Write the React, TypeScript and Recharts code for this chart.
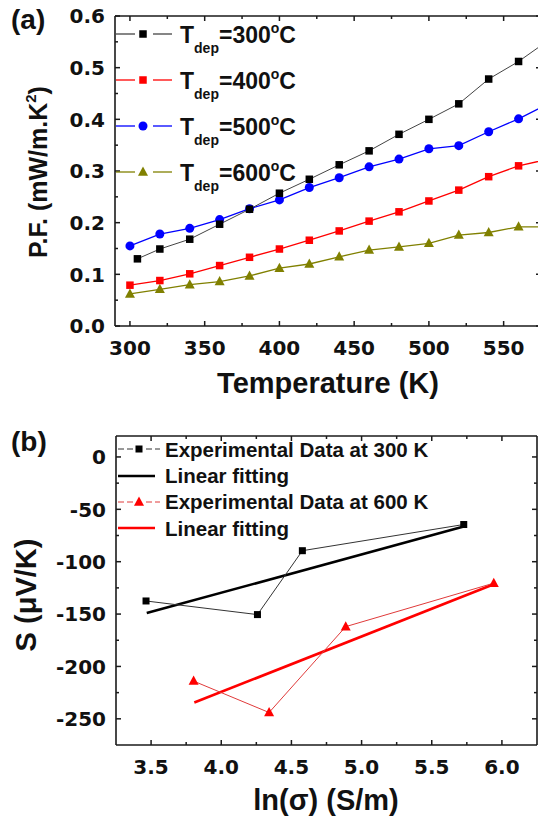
import React from 'react';
import { LineChart, Line, XAxis, YAxis } from 'recharts';

// (a) power factor vs temperature
const TEMPS = [300, 320, 340, 360, 380, 400, 420, 440, 460, 480, 500, 520, 540, 560, 580];
const TEMPS_300 = [305, 320, 340, 360, 380, 400, 420, 440, 460, 480, 500, 520, 540, 560, 580];
const PF_300 = [0.130, 0.149, 0.168, 0.197, 0.226, 0.257, 0.284, 0.312, 0.339, 0.371, 0.400, 0.430, 0.478, 0.512, 0.553];
const PF_400 = [0.079, 0.088, 0.101, 0.117, 0.133, 0.149, 0.166, 0.184, 0.203, 0.221, 0.242, 0.263, 0.289, 0.310, 0.323];
const PF_500 = [0.155, 0.178, 0.189, 0.206, 0.227, 0.244, 0.268, 0.287, 0.308, 0.323, 0.343, 0.349, 0.376, 0.401, 0.430];
const PF_600 = [0.062, 0.071, 0.080, 0.086, 0.097, 0.112, 0.120, 0.134, 0.147, 0.153, 0.160, 0.176, 0.181, 0.192, 0.192];

// (b) Seebeck vs ln(conductivity)
const LN_300 = [3.464, 4.258, 4.578, 5.728];
const S_300 = [-137.5, -150.5, -89.5, -64.5];
const FIT_LN_300 = [3.469, 5.728];
const FIT_S_300 = [-149, -66.5];
const LN_600 = [3.803, 4.341, 4.887, 5.942];
const S_600 = [-214, -244, -162, -120.5];
const FIT_LN_600 = [3.808, 5.942];
const FIT_S_600 = [-234.5, -121.5];

// ticks
const A_X_MAJOR = [300, 350, 400, 450, 500, 550];
const A_X_MINOR = [325, 375, 425, 475, 525];
const A_Y_MAJOR = [0, 0.1, 0.2, 0.3, 0.4, 0.5, 0.6];
const A_Y_MINOR = [0.05, 0.15, 0.25, 0.35, 0.45, 0.55];
const B_X_MAJOR = [3.5, 4.0, 4.5, 5.0, 5.5, 6.0];
const B_X_MINOR = [3.75, 4.25, 4.75, 5.25, 5.75];
const B_Y_MAJOR = [0, -50, -100, -150, -200, -250];
const B_Y_MINOR = [-25, -75, -125, -175, -225];

const FRAME = '#1a1a1a';
const TICK_FONT = { fontFamily: 'DejaVu Sans', fontWeight: 700, fontSize: 20, fill: '#111' };
const LABEL_FONT = 'Liberation Sans, Arial, sans-serif';

const pts = (xs: number[], ys: number[]) => xs.map((x, i) => ({ x, y: ys[i] }));

type Shape = 'square' | 'circle' | 'triangle';

const drawMarker = (shape: Shape, color: string, size: number, cx: number, cy: number, key?: any) => {
  const h = size / 2;
  if (shape === 'square') return <rect key={key} x={cx - h} y={cy - h} width={size} height={size} fill={color} />;
  if (shape === 'circle') return <circle key={key} cx={cx} cy={cy} r={h} fill={color} />;
  return (
    <polygon
      key={key}
      points={`${cx},${cy - h * 1.1} ${cx + h},${cy + h * 0.75} ${cx - h},${cy + h * 0.75}`}
      fill={color}
    />
  );
};

const dotOf = (shape: Shape, color: string, size: number) => (props: any) => {
  const { cx, cy, index } = props;
  if (cx == null || cy == null) return <g key={index} />;
  return drawMarker(shape, color, size, cx, cy, index);
};

type Side = 'bottom' | 'top' | 'left' | 'right';

// inward ticks (major with label, minor without), drawn from the axis line
const axisTick = (side: Side, majors: number[], fmt?: (v: number) => string) => (props: any) => {
  const { x, y, payload } = props;
  const v = payload.value;
  const major = majors.some((m) => Math.abs(m - v) < 1e-6);
  const len = major ? 5 : 3;
  let x2 = x;
  let y2 = y;
  if (side === 'bottom') y2 = y - len;
  if (side === 'top') y2 = y + len;
  if (side === 'left') x2 = x + len;
  if (side === 'right') x2 = x - len;
  return (
    <g>
      <line x1={x} y1={y} x2={x2} y2={y2} stroke={FRAME} strokeWidth={1.5} />
      {major && fmt && side === 'bottom' && (
        <text x={x} y={y + 29} textAnchor="middle" {...TICK_FONT}>{fmt(v)}</text>
      )}
      {major && fmt && side === 'left' && (
        <text x={x - 10} y={y} dy="0.36em" textAnchor="end" {...TICK_FONT}>{fmt(v)}</text>
      )}
    </g>
  );
};

const axisLine = { stroke: FRAME, strokeWidth: 1.6 };

export default function App() {
  const aX = [...A_X_MAJOR, ...A_X_MINOR];
  const aY = [...A_Y_MAJOR, ...A_Y_MINOR];
  const bX = [...B_X_MAJOR, ...B_X_MINOR];
  const bY = [...B_Y_MAJOR, ...B_Y_MINOR];
  const fmtA_X = (v: number) => String(v);
  const fmtA_Y = (v: number) => v.toFixed(1);
  const fmtB_X = (v: number) => v.toFixed(1);
  const fmtB_Y = (v: number) => String(v);

  const topLegend = [
    { label: '300', shape: 'square' as Shape, color: '#000000', line: '#444444', y: 34 },
    { label: '400', shape: 'square' as Shape, color: '#ff0000', line: '#ff0000', y: 80 },
    { label: '500', shape: 'circle' as Shape, color: '#0000ff', line: '#0000ff', y: 126 },
    { label: '600', shape: 'triangle' as Shape, color: '#808000', line: '#808000', y: 172 },
  ];

  return (
    <div style={{ position: 'fixed', left: 0, top: 0, width: 538, height: 822, overflow: 'hidden', background: '#fff' }}>
      <div style={{ position: 'absolute', left: 0, top: 0 }}>
        <LineChart width={560} height={410} margin={{ top: 15, right: 18, bottom: 83, left: 114 }}>
          <XAxis xAxisId="b" type="number" dataKey="x" domain={[290, 575]} allowDataOverflow ticks={aX} interval={0}
            height={1} tickSize={0} tickMargin={0} tickLine={false} axisLine={axisLine} tick={axisTick('bottom', A_X_MAJOR, fmtA_X)} />
          <XAxis xAxisId="t" orientation="top" type="number" dataKey="x" domain={[290, 575]} allowDataOverflow ticks={aX} interval={0}
            height={1} tickSize={0} tickMargin={0} tickLine={false} axisLine={axisLine} tick={axisTick('top', A_X_MAJOR)} />
          <YAxis yAxisId="l" type="number" domain={[0, 0.6]} allowDataOverflow ticks={aY} interval={0}
            width={1} tickSize={0} tickMargin={0} tickLine={false} axisLine={axisLine} tick={axisTick('left', A_Y_MAJOR, fmtA_Y)} />
          <YAxis yAxisId="r" orientation="right" type="number" domain={[0, 0.6]} allowDataOverflow ticks={aY} interval={0}
            width={1} tickSize={0} tickMargin={0} tickLine={false} axisLine={axisLine} tick={axisTick('right', A_Y_MAJOR)} />
          <Line xAxisId="b" yAxisId="l" data={pts(TEMPS, PF_600)} dataKey="y" stroke="#808000" strokeWidth={1.3}
            dot={dotOf('triangle', '#808000', 10)} isAnimationActive={false} />
          <Line xAxisId="b" yAxisId="l" data={pts(TEMPS, PF_400)} dataKey="y" stroke="#ff0000" strokeWidth={1.3}
            dot={dotOf('square', '#ff0000', 7.5)} isAnimationActive={false} />
          <Line xAxisId="b" yAxisId="l" data={pts(TEMPS, PF_500)} dataKey="y" stroke="#0000ff" strokeWidth={1.3}
            dot={dotOf('circle', '#0000ff', 9)} isAnimationActive={false} />
          <Line xAxisId="b" yAxisId="l" data={pts(TEMPS_300, PF_300)} dataKey="y" stroke="#444444" strokeWidth={1}
            dot={dotOf('square', '#000000', 7.5)} isAnimationActive={false} />
        </LineChart>
      </div>

      <div style={{ position: 'absolute', left: 0, top: 400 }}>
        <LineChart width={540} height={422} margin={{ top: 35, right: 2, bottom: 76, left: 115 }}>
          <XAxis xAxisId="b" type="number" dataKey="x" domain={[3.25, 6.25]} allowDataOverflow ticks={bX} interval={0}
            height={1} tickSize={0} tickMargin={0} tickLine={false} axisLine={axisLine} tick={axisTick('bottom', B_X_MAJOR, fmtB_X)} />
          <XAxis xAxisId="t" orientation="top" type="number" dataKey="x" domain={[3.25, 6.25]} allowDataOverflow ticks={bX} interval={0}
            height={1} tickSize={0} tickMargin={0} tickLine={false} axisLine={axisLine} tick={axisTick('top', B_X_MAJOR)} />
          <YAxis yAxisId="l" type="number" domain={[-275, 20]} allowDataOverflow ticks={bY} interval={0}
            width={1} tickSize={0} tickMargin={0} tickLine={false} axisLine={axisLine} tick={axisTick('left', B_Y_MAJOR, fmtB_Y)} />
          <YAxis yAxisId="r" orientation="right" type="number" domain={[-275, 20]} allowDataOverflow ticks={bY} interval={0}
            width={1} tickSize={0} tickMargin={0} tickLine={false} axisLine={axisLine} tick={axisTick('right', B_Y_MAJOR)} />
          <Line xAxisId="b" yAxisId="l" data={pts(FIT_LN_300, FIT_S_300)} dataKey="y" stroke="#000000" strokeWidth={2.6}
            dot={false} isAnimationActive={false} />
          <Line xAxisId="b" yAxisId="l" data={pts(LN_300, S_300)} dataKey="y" stroke="#333333" strokeWidth={1}
            dot={dotOf('square', '#000000', 7)} isAnimationActive={false} />
          <Line xAxisId="b" yAxisId="l" data={pts(FIT_LN_600, FIT_S_600)} dataKey="y" stroke="#ff0000" strokeWidth={2.6}
            dot={false} isAnimationActive={false} />
          <Line xAxisId="b" yAxisId="l" data={pts(LN_600, S_600)} dataKey="y" stroke="#e03a3a" strokeWidth={1}
            dot={dotOf('triangle', '#ff0000', 10)} isAnimationActive={false} />
        </LineChart>
      </div>

      <svg width={538} height={822} style={{ position: 'absolute', left: 0, top: 0, pointerEvents: 'none' }}
        fontFamily={LABEL_FONT} fontWeight={700} fill="#111">
        <text x={11} y={29} fontSize={28}>(a)</text>
        <text x={11} y={451} fontSize={28}>(b)</text>

        <text x={328} y={393} fontSize={29} textAnchor="middle">Temperature (K)</text>
        <text transform="translate(47,172) rotate(-90)" fontSize={25} textAnchor="middle">
          P.F. (mW/m.K<tspan fontSize={15} dy={-11}>2</tspan><tspan dy={11}>)</tspan>
        </text>

        <text x={326} y={810} fontSize={29} textAnchor="middle">ln(σ) (S/m)</text>
        <text transform="translate(36,595) rotate(-90)" fontSize={29} textAnchor="middle">S (μV/K)</text>

        {topLegend.map((r) => (
          <g key={r.label}>
            <line x1={116} x2={135} y1={r.y} y2={r.y} stroke={r.line} strokeWidth={1.3} />
            <line x1={153} x2={172} y1={r.y} y2={r.y} stroke={r.line} strokeWidth={1.3} />
            {drawMarker(r.shape, r.color, r.shape === 'triangle' ? 10 : r.shape === 'circle' ? 9 : 7.5, 143, r.y)}
            <text x={180} y={r.y + 8.5} fontSize={23}>
              T<tspan fontSize={14} dy={10}>dep</tspan>
              <tspan fontSize={23} dy={-10}>={r.label}</tspan>
              <tspan fontSize={14} dy={-10}>o</tspan>
              <tspan fontSize={23} dy={10}>C</tspan>
            </text>
          </g>
        ))}

        <line x1={118} x2={133} y1={449} y2={449} stroke="#333" strokeWidth={1} strokeDasharray="6 3" />
        <line x1={146} x2={160} y1={449} y2={449} stroke="#333" strokeWidth={1} strokeDasharray="6 3" />
        {drawMarker('square', '#000', 7, 139, 449)}
        <text x={165} y={456.5} fontSize={20.5}>Experimental Data at 300 K</text>

        <line x1={118} x2={155} y1={476} y2={476} stroke="#000" strokeWidth={2.6} />
        <text x={165} y={483} fontSize={20.5}>Linear fitting</text>

        <line x1={118} x2={133} y1={502} y2={502} stroke="#e03a3a" strokeWidth={1} strokeDasharray="6 3" />
        <line x1={146} x2={160} y1={502} y2={502} stroke="#e03a3a" strokeWidth={1} strokeDasharray="6 3" />
        {drawMarker('triangle', '#ff0000', 10, 139, 502)}
        <text x={165} y={509} fontSize={20.5}>Experimental Data at 600 K</text>

        <line x1={118} x2={155} y1={528} y2={528} stroke="#ff0000" strokeWidth={2.6} />
        <text x={165} y={535.5} fontSize={20.5}>Linear fitting</text>
      </svg>
    </div>
  );
}
